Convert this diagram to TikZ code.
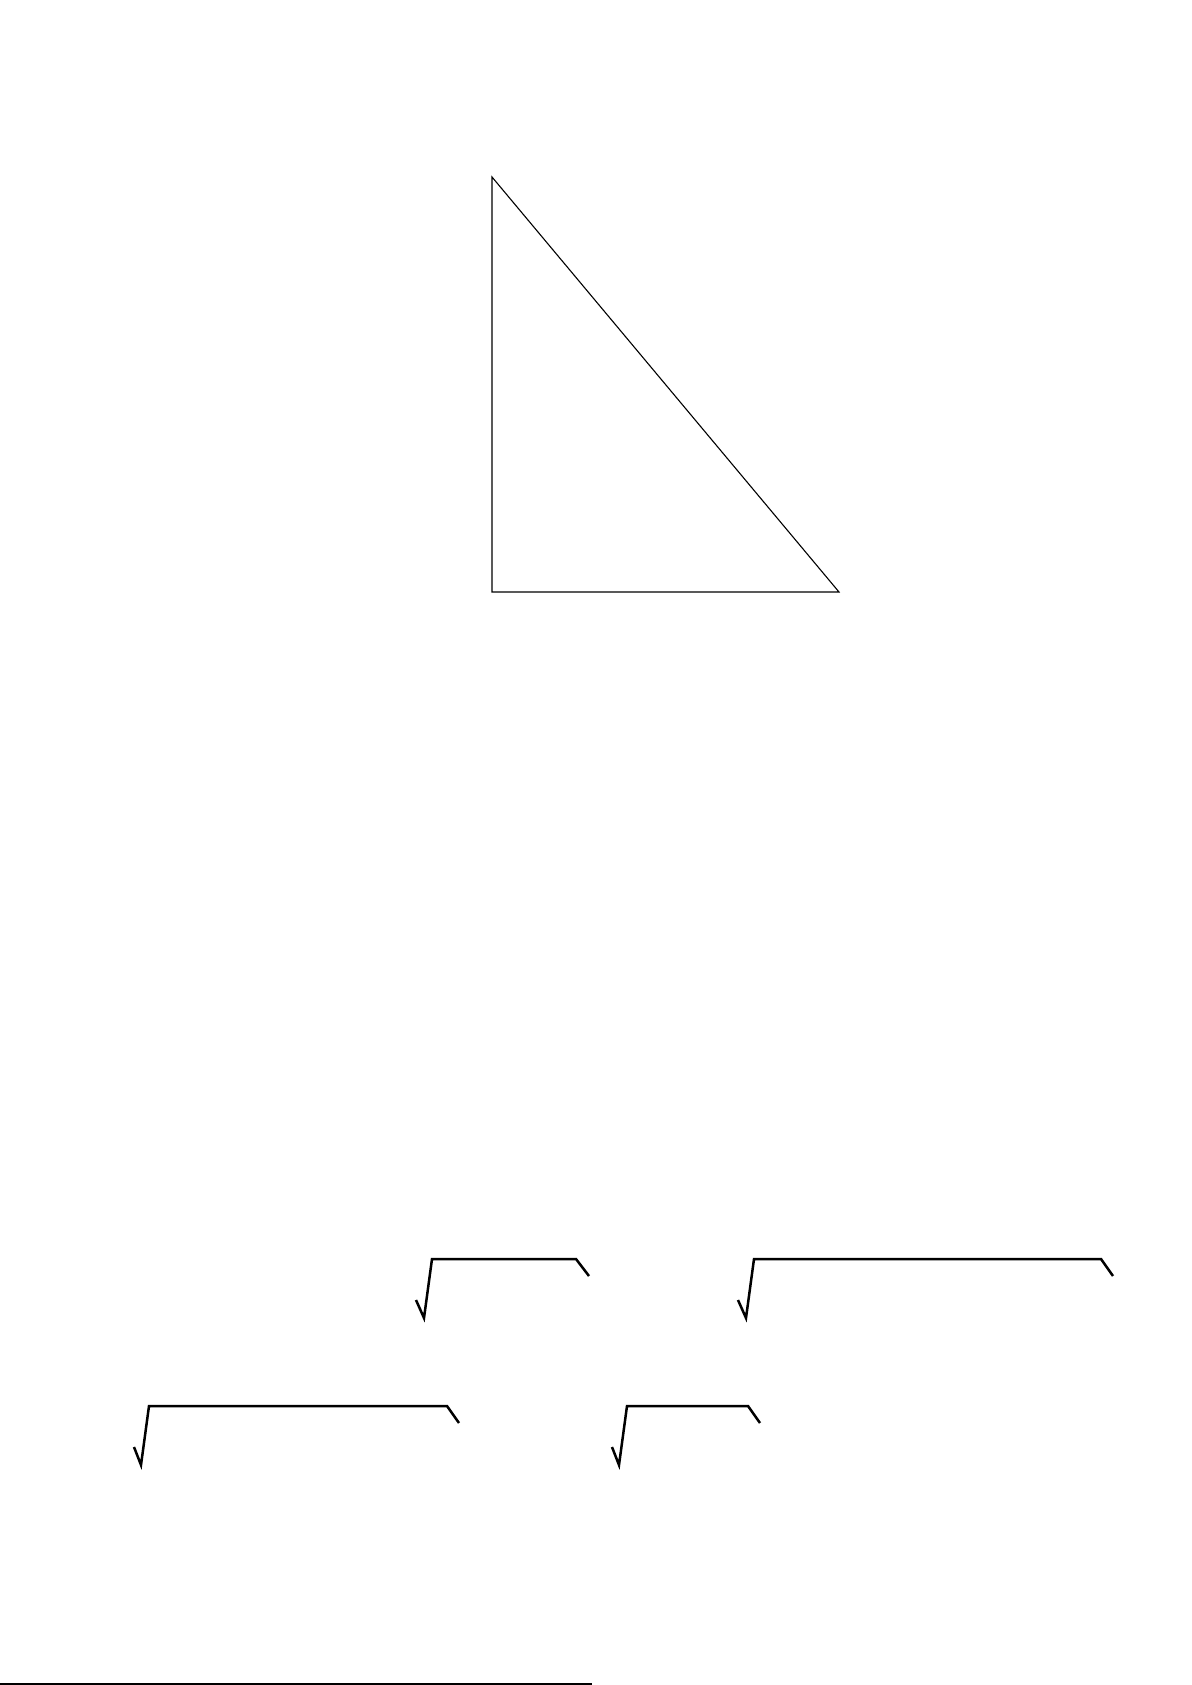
\documentclass[tikz,border=0pt]{standalone}
\begin{document}
\begin{tikzpicture}[x=1pt,y=-1pt,
  thinline/.style={draw=black,line width=1.1pt,line join=miter},
  radical/.style={draw=black,line width=2.5pt,line join=miter}]
\useasboundingbox (0,0) rectangle (1191,1685);
% triangle
\coordinate (A) at (492,177);
\coordinate (B) at (492,592);
\coordinate (C) at (839,592);
\draw[thinline] (A) -- (B) -- (C) -- cycle;
% radical 1
\coordinate (r1a) at (416,1300);
\coordinate (r1b) at (424,1318);
\coordinate (r1c) at (432,1259);
\coordinate (r1d) at (576,1259);
\coordinate (r1e) at (589,1276);
\draw[radical] (r1a) -- (r1b) -- (r1c) -- (r1d) -- (r1e);
% radical 2
\coordinate (r2a) at (738,1300);
\coordinate (r2b) at (746,1318);
\coordinate (r2c) at (754,1259);
\coordinate (r2d) at (1101,1259);
\coordinate (r2e) at (1113,1276);
\draw[radical] (r2a) -- (r2b) -- (r2c) -- (r2d) -- (r2e);
% radical 3
\coordinate (r3a) at (134,1447);
\coordinate (r3b) at (141,1465);
\coordinate (r3c) at (149,1406);
\coordinate (r3d) at (447,1406);
\coordinate (r3e) at (459,1423);
\draw[radical] (r3a) -- (r3b) -- (r3c) -- (r3d) -- (r3e);
% radical 4
\coordinate (r4a) at (612,1447);
\coordinate (r4b) at (619,1465);
\coordinate (r4c) at (627,1406);
\coordinate (r4d) at (748,1406);
\coordinate (r4e) at (760,1423);
\draw[radical] (r4a) -- (r4b) -- (r4c) -- (r4d) -- (r4e);
% bottom rule
\coordinate (L0) at (0,1684);
\coordinate (L1) at (592,1684);
\draw[thinline] (L0) -- (L1);
\end{tikzpicture}
\end{document}
